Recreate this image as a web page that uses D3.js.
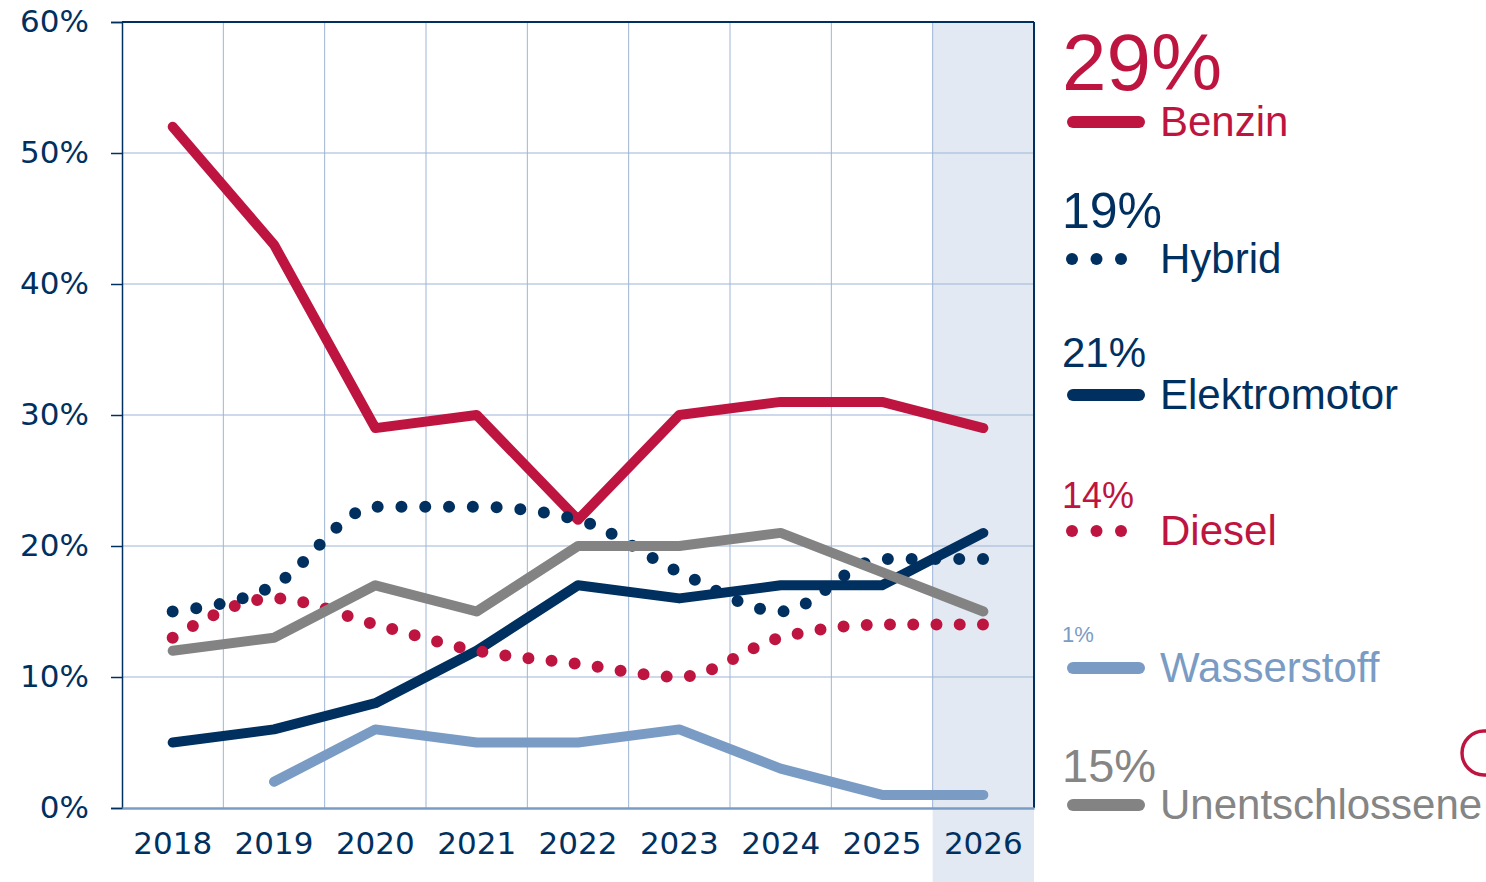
<!DOCTYPE html>
<html>
<head>
<meta charset="utf-8">
<script src="https://cdn.jsdelivr.net/npm/d3@7"></script>
<style>
  body { margin: 0; background: #fff; }
  svg { display: block; }
</style>
</head>
<body>
<svg id="chart" width="1486" height="882"></svg>
<script>
// data
var years = ["2018", "2019", "2020", "2021", "2022", "2023", "2024", "2025", "2026"];
var benzin = [52, 43, 29, 30, 22, 30, 31, 31, 29];
var hybrid = [15, 17, 23, 23, 22, 18, 15, 19, 19];
var elektro = [5, 6, 8, 12, 17, 16, 17, 17, 21];
var diesel = [13, 16, 14, 12, 11, 10, 13, 14, 14];
var wasser = [null, 2, 6, 5, 5, 6, 3, 1, 1];
var unent = [12, 13, 17, 15, 20, 20, 21, 18, 15];
var yTicks = [0, 10, 20, 30, 40, 50, 60];

var red = "#be1540", navy = "#00305f", light = "#7a9cc4", grey = "#838383";

var series = [
  {name: "Wasserstoff", values: wasser, color: light, dotted: false},
  {name: "Elektromotor", values: elektro, color: navy, dotted: false},
  {name: "Benzin", values: benzin, color: red, dotted: false},
  {name: "Diesel", values: diesel, color: red, dotted: true},
  {name: "Hybrid", values: hybrid, color: navy, dotted: true},
  {name: "Unentschlossene", values: unent, color: grey, dotted: false}
];

// legend order, top to bottom
var legend = [
  {name: "Benzin", values: benzin, color: red, text: red, dotted: false, pctSize: 80, pctY: 90, y: 122},
  {name: "Hybrid", values: hybrid, color: navy, text: navy, dotted: true, pctSize: 50, pctY: 228, y: 259},
  {name: "Elektromotor", values: elektro, color: navy, text: navy, dotted: false, pctSize: 42, pctY: 367, y: 395},
  {name: "Diesel", values: diesel, color: red, text: red, dotted: true, pctSize: 36, pctY: 508, y: 531},
  {name: "Wasserstoff", values: wasser, color: light, text: light, dotted: false, pctSize: 22, pctY: 642, y: 668},
  {name: "Unentschlossene", values: unent, color: grey, text: "#858585", dotted: false, pctSize: 47, pctY: 782, y: 805}
];

var mLeft = 122, mRight = 1034, mTop = 22, mBottom = 808;

var svg = d3.select("#chart");

var x = d3.scaleBand().domain(years).range([mLeft, mRight]).padding(0);
var y = d3.scaleLinear().domain([0, 60]).range([mBottom, mTop]);

// shaded last year
svg.append("rect")
  .attr("x", x("2026"))
  .attr("y", mTop)
  .attr("width", x.bandwidth())
  .attr("height", 882 - mTop)
  .attr("fill", "#e2e9f2");

// grid
svg.append("g").selectAll("line").data(yTicks.slice(1, -1)).enter()
  .append("line")
  .attr("x1", mLeft).attr("x2", mRight)
  .attr("y1", function(d) { return y(d); })
  .attr("y2", function(d) { return y(d); })
  .attr("stroke", "#9db5d6").attr("stroke-width", 1);

svg.append("g").selectAll("line").data(years.slice(1)).enter()
  .append("line")
  .attr("x1", function(d) { return x(d); })
  .attr("x2", function(d) { return x(d); })
  .attr("y1", mTop).attr("y2", mBottom)
  .attr("stroke", "#9db5d6").attr("stroke-width", 1);

// frame
svg.append("line").attr("x1", mLeft).attr("x2", mRight).attr("y1", mTop).attr("y2", mTop)
  .attr("stroke", navy).attr("stroke-width", 2);
svg.append("line").attr("x1", mRight).attr("x2", mRight).attr("y1", mTop).attr("y2", mBottom)
  .attr("stroke", navy).attr("stroke-width", 2);

// y axis
var yAxis = d3.axisLeft(y).tickValues(yTicks).tickSize(11).tickPadding(22)
  .tickFormat(function(d) { return d + "%"; });
var gy = svg.append("g").attr("transform", "translate(" + mLeft + ",0)").call(yAxis);
gy.select(".domain").attr("stroke", navy).attr("stroke-width", 1.5);
gy.selectAll(".tick line").attr("stroke", navy).attr("stroke-width", 1.5);
gy.selectAll(".tick text")
  .attr("fill", navy)
  .style("font-family", "'DejaVu Sans', Verdana, sans-serif")
  .style("font-size", "31px");

// x axis
var xAxis = d3.axisBottom(x).tickSize(0).tickPadding(24);
var gx = svg.append("g").attr("transform", "translate(0," + mBottom + ")").call(xAxis);
gx.select(".domain").attr("stroke", light).attr("stroke-width", 2.5);
gx.selectAll(".tick text")
  .attr("fill", navy)
  .style("font-family", "'DejaVu Sans', Verdana, sans-serif")
  .style("font-size", "31px");

// lines
var cx = function(d, i) { return x(years[i]) + x.bandwidth() / 2; };
var solid = d3.line().defined(function(d) { return d != null; })
  .x(cx).y(function(d) { return y(d); });
var curved = d3.line().defined(function(d) { return d != null; })
  .x(cx).y(function(d) { return y(d); })
  .curve(d3.curveMonotoneX);

series.forEach(function(s) {
  var p = svg.append("path")
    .attr("d", s.dotted ? curved(s.values) : solid(s.values))
    .attr("fill", "none")
    .attr("stroke", s.color)
    .attr("stroke-linecap", "round")
    .attr("stroke-linejoin", "round");
  if (s.dotted) {
    // spread dots so one lands on each end
    var len = p.node().getTotalLength();
    var n = Math.round(len / 23.5);
    var gap = (len - 0.5) / n;
    p.attr("stroke-width", 12).attr("stroke-dasharray", "0 " + gap);
  } else {
    p.attr("stroke-width", 10);
  }
});

// legend
var lg = svg.append("g").selectAll("g").data(legend).enter().append("g");

lg.append("text")
  .attr("x", 1062)
  .attr("y", function(d) { return d.pctY; })
  .attr("fill", function(d) { return d.text; })
  .style("font-family", "'Liberation Sans', Arial, sans-serif")
  .style("font-size", function(d) { return d.pctSize + "px"; })
  .text(function(d) { return d.values[d.values.length - 1] + "%"; });

lg.append("text")
  .attr("x", 1160)
  .attr("y", function(d) { return d.y + 14; })
  .attr("fill", function(d) { return d.text; })
  .style("font-family", "'Liberation Sans', Arial, sans-serif")
  .style("font-size", "42px")
  .text(function(d) { return d.name; });

lg.filter(function(d) { return !d.dotted; }).append("line")
  .attr("x1", 1073).attr("x2", 1139)
  .attr("y1", function(d) { return d.y; })
  .attr("y2", function(d) { return d.y; })
  .attr("stroke", function(d) { return d.color; })
  .attr("stroke-width", 12)
  .attr("stroke-linecap", "round");

lg.filter(function(d) { return d.dotted; }).selectAll("circle")
  .data(function(d) { return [0, 1, 2].map(function(k) { return {k: k, d: d}; }); })
  .enter().append("circle")
  .attr("cx", function(o) { return 1072 + o.k * 24.5; })
  .attr("cy", function(o) { return o.d.y; })
  .attr("r", 6)
  .attr("fill", function(o) { return o.d.color; });

// cut-off logo ring at the right edge
svg.append("circle")
  .attr("cx", 1484).attr("cy", 753).attr("r", 22)
  .attr("fill", "none").attr("stroke", red).attr("stroke-width", 3.5);
</script>
</body>
</html>
